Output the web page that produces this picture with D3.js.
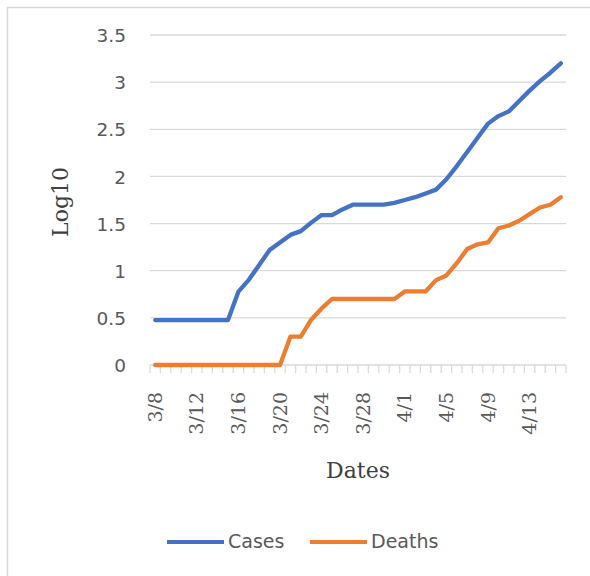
<!DOCTYPE html>
<html>
<head>
<meta charset="utf-8">
<script src="https://cdn.jsdelivr.net/npm/d3@7"></script>
<style>
  html, body { margin: 0; padding: 0; background: #fff; }
  svg { display: block; }
</style>
</head>
<body>
<svg id="chart" width="590" height="576"></svg>
<script>
const dates = ["3/8","3/9","3/10","3/11","3/12","3/13","3/14","3/15","3/16","3/17",
  "3/18","3/19","3/20","3/21","3/22","3/23","3/24","3/25","3/26","3/27",
  "3/28","3/29","3/30","3/31","4/1","4/2","4/3","4/4","4/5","4/6",
  "4/7","4/8","4/9","4/10","4/11","4/12","4/13","4/14","4/15","4/16"];
const cases = [0.477,0.477,0.477,0.477,0.477,0.477,0.477,0.477,0.778,0.903,
  1.06,1.22,1.30,1.38,1.42,1.51,1.59,1.59,1.65,1.70,
  1.70,1.70,1.70,1.72,1.75,1.78,1.82,1.86,1.97,2.11,
  2.26,2.41,2.56,2.64,2.69,2.80,2.91,3.01,3.10,3.20];
const deaths = [0,0,0,0,0,0,0,0,0,0,
  0,0,0,0.30,0.30,0.48,0.60,0.70,0.70,0.70,
  0.70,0.70,0.70,0.70,0.78,0.78,0.78,0.90,0.95,1.08,
  1.23,1.28,1.30,1.45,1.48,1.53,1.60,1.67,1.70,1.78];
const yTicks = [0,0.5,1,1.5,2,2.5,3,3.5];
const labelEvery = 4;
const seriesNames = ["Cases","Deaths"];
const colors = ["#4472C4","#ED7D31"];

(function(){
const svg = d3.select("#chart");
const pL = 150, pR = 566, pT = 35, pB = 365;

// outer chart border
svg.append("rect").attr("x",7.5).attr("y",7.5).attr("width",620).attr("height",620)
  .attr("fill","none").attr("stroke","#d9d9d9").attr("stroke-width",1.5);

const x = d3.scaleBand().domain(dates).range([pL,pR]).padding(0);
const y = d3.scaleLinear().domain([0,3.5]).range([pB,pT]);

// gridlines
svg.append("g").selectAll("line").data(yTicks.filter(t=>t>0)).join("line")
  .attr("x1",pL).attr("x2",pR)
  .attr("y1",d=>y(d)).attr("y2",d=>y(d))
  .attr("stroke","#d9d9d9").attr("stroke-width",1.3);

// y axis labels
const yAxis = d3.axisLeft(y).tickValues(yTicks).tickSize(0).tickPadding(0)
  .tickFormat(d=>String(d));
const gy = svg.append("g").attr("transform",`translate(126,0)`).call(yAxis);
gy.select(".domain").remove();
gy.selectAll("text").attr("font-family","DejaVu Sans").attr("font-size",18.5)
  .attr("fill","#595959").attr("dy","0.36em");

// x axis line
svg.append("line").attr("x1",pL).attr("x2",pR).attr("y1",pB).attr("y2",pB)
  .attr("stroke","#d9d9d9").attr("stroke-width",1.5);
// tick marks at category boundaries
const bounds = dates.map(d=>x(d)).concat([x(dates[dates.length-1])+x.bandwidth()]);
svg.append("g").selectAll("line").data(bounds).join("line")
  .attr("x1",d=>d).attr("x2",d=>d).attr("y1",pB).attr("y2",pB+8)
  .attr("stroke","#d9d9d9").attr("stroke-width",1.3);

// x labels
svg.append("g").selectAll("text").data(dates.filter((d,i)=>i%labelEvery===0)).join("text")
  .attr("transform",d=>`translate(${x(d)+x.bandwidth()/2},392) rotate(-90)`)
  .attr("text-anchor","end").attr("dy","0.35em")
  .attr("font-family","DejaVu Serif").attr("font-size",19).attr("fill","#595959")
  .text(d=>d);

// axis titles
svg.append("text").attr("x",(pL+pR)/2).attr("y",478).attr("text-anchor","middle")
  .attr("font-family","DejaVu Serif").attr("font-size",22).attr("fill","#404040").text("Dates");
svg.append("text").attr("transform",`translate(68,${(pT+pB)/2+2}) rotate(-90)`)
  .attr("text-anchor","middle")
  .attr("font-family","DejaVu Serif").attr("font-size",22).attr("fill","#404040").text("Log10");

// lines
const line = d3.line().x((d,i)=>x(dates[i])+x.bandwidth()/2).y(d=>y(d));
[cases,deaths].forEach((s,k)=>{
  svg.append("path").datum(s).attr("d",line).attr("fill","none")
    .attr("stroke",colors[k]).attr("stroke-width",4.3)
    .attr("stroke-linejoin","round").attr("stroke-linecap","round");
});

// legend
const legX = [167,310];
seriesNames.forEach((n,k)=>{
  svg.append("line").attr("x1",legX[k]).attr("x2",legX[k]+57).attr("y1",542).attr("y2",542)
    .attr("stroke",colors[k]).attr("stroke-width",4);
  svg.append("text").attr("x",legX[k]+61).attr("y",548)
    .attr("font-family","DejaVu Sans").attr("font-size",19).attr("fill","#595959").text(n);
});
})();
</script>
</body>
</html>
